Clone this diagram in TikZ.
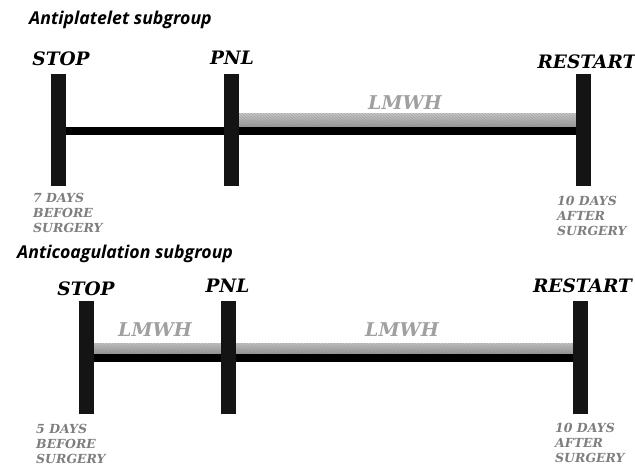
\documentclass[tikz,border=0pt]{standalone}
\usepackage{fontspec}
\newfontfamily\titlefont{Open Sans}
\newfontfamily\serifb{DejaVu Serif}
\usetikzlibrary{patterns}
\definecolor{lmwh}{HTML}{A0A0A0}
\definecolor{daysgray}{HTML}{7E7E7E}
\tikzset{
  x=1pt, y=-1pt,
  bar/.style={fill=black!92, draw=none, minimum width=15pt, minimum height=112pt, inner sep=0pt},
  tline/.style={line width=8pt, draw=black},
  band/.style={top color=gray!45, bottom color=gray!90, draw=none,
     postaction={pattern=north west lines, pattern color=gray!70}},
  grptitle/.style={font=\titlefont\bfseries\itshape\fontsize{17.7}{20}\selectfont, anchor=west, inner sep=0pt},
  evlabel/.style={font=\serifb\bfseries\itshape\fontsize{18.5}{22}\selectfont, anchor=base, inner sep=0pt},
  lmwhlabel/.style={font=\serifb\bfseries\itshape\fontsize{19}{22}\selectfont, text=lmwh, anchor=base, inner sep=0pt},
  dayslabel/.style={font=\serifb\bfseries\itshape\fontsize{12.5}{15}\selectfont, text=daysgray, align=left, anchor=north west, inner sep=0pt}
}
\begin{document}
\begin{tikzpicture}
\useasboundingbox (0,0) rectangle (635,465);
% ---------- Antiplatelet subgroup ----------
\node[grptitle] (t1) at (29,20) {Antiplatelet subgroup};
\node[bar] (stopA) at (58.5,130) {};
\node[bar] (pnlA) at (231.5,130) {};
\node[bar] (restA) at (583.5,130) {};
\fill[band] (pnlA.east |- 0,114) rectangle (restA.west |- 0,127);
\draw[tline] ([yshift=-1pt]stopA.east) -- ([yshift=-1pt]restA.west);
\node[bar] at (stopA) {};
\node[bar] at (pnlA) {};
\node[bar] at (restA) {};
\node[evlabel] (stopAl) at (61,66) {STOP};
\node[evlabel] (pnlAl) at (232,65) {PNL};
\node[evlabel] (restAl) at (587,69) {RESTART};
\node[lmwhlabel] (lmA) at (405,110) {LMWH};
\node[dayslabel] (dA1) at (33,193) {7 DAYS\\BEFORE\\SURGERY};
\node[dayslabel] (dA2) at (557,196) {10 DAYS\\AFTER\\SURGERY};
% ---------- Anticoagulation subgroup ----------
\node[grptitle] (t2) at (17,254) {Anticoagulation subgroup};
\node[bar] (stopB) at (86.5,357.5) {};
\node[bar] (pnlB) at (228.5,357.5) {};
\node[bar] (restB) at (580.5,357.5) {};
\fill[band] (stopB.east |- 0,343) rectangle (restB.west |- 0,353);
\draw[tline] (stopB.east) -- (restB.west);
\node[bar] at (stopB) {};
\node[bar] at (pnlB) {};
\node[bar] at (restB) {};
\node[evlabel] (stopBl) at (86,295) {STOP};
\node[evlabel] (pnlBl) at (227.5,293) {PNL};
\node[evlabel] (restBl) at (582.5,293) {RESTART};
\node[lmwhlabel] (lmB1) at (155,337) {LMWH};
\node[lmwhlabel] (lmB2) at (402,337) {LMWH};
\node[dayslabel] (dB1) at (36,424) {5 DAYS\\BEFORE\\SURGERY};
\node[dayslabel] (dB2) at (555,423) {10 DAYS\\AFTER\\SURGERY};
\end{tikzpicture}
\end{document}
